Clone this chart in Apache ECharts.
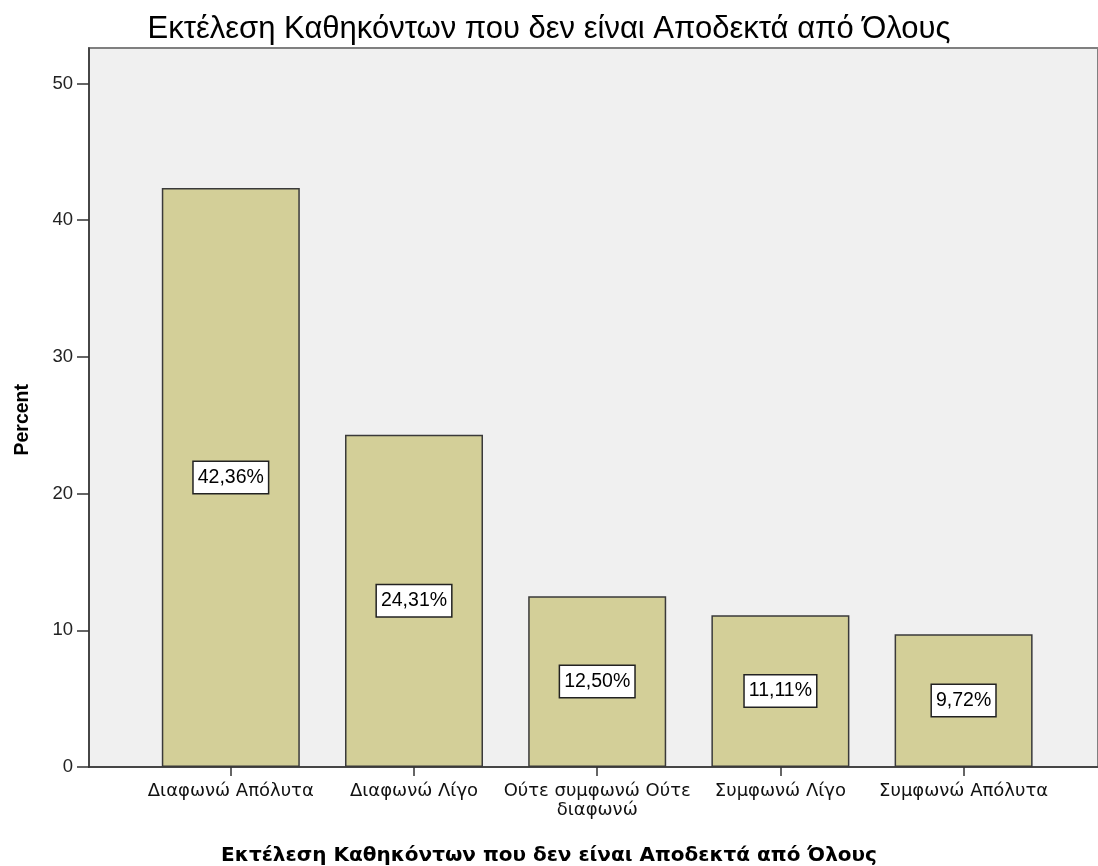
<!DOCTYPE html>
<html>
<head>
<meta charset="utf-8">
<script src="https://cdn.jsdelivr.net/npm/echarts@6/dist/echarts.min.js"></script>
<style>html,body{margin:0;padding:0;background:#fff}#c{width:1098px;height:866px}</style>
</head>
<body>
<div id="c"></div>
<script>
const titleText = 'Εκτέλεση Καθηκόντων που δεν είναι Αποδεκτά από Όλους';
const categories = ['Διαφωνώ Απόλυτα', 'Διαφωνώ Λίγο', 'Ούτε συμφωνώ Ούτε\nδιαφωνώ', 'Συμφωνώ Λίγο', 'Συμφωνώ Απόλυτα'];
const percents = [42.36, 24.31, 12.50, 11.11, 9.72];
const yTicks = [0, 10, 20, 30, 40, 50];
const yName = 'Percent';

const chart = echarts.init(document.getElementById('c'), null, {renderer: 'canvas'});
const YMAX = 52.6;
const option = {
  animation: false,
  backgroundColor: '#ffffff',
  title: {
    text: titleText,
    left: 'center',
    top: 9,
    textStyle: {fontFamily: 'Liberation Sans', fontWeight: 'normal', fontSize: 31, color: '#000'}
  },
  graphic: [
    {type: 'text', left: 13, top: 384, rotation: Math.PI / 2,
     style: {text: yName, fontFamily: 'Liberation Sans', fontWeight: 'bold', fontSize: 19.5, fill: '#000'}},
    {type: 'text', left: 'center', top: 846,
     style: {text: titleText, fontFamily: 'DejaVu Sans', fontWeight: 'bold', fontSize: 20, fill: '#000'}}
  ],
  grid: [
    {left: 89, top: 48, width: 1016, bottom: 99, show: true, backgroundColor: '#f0f0f0', borderColor: '#808080', borderWidth: 2},
    {left: 139.2, top: 48, width: 916, bottom: 99}
  ],
  xAxis: [
    {type: 'category', gridIndex: 0, data: [''],
     axisLine: {show: true, lineStyle: {color: '#333', width: 1.5}},
     axisTick: {show: false}, axisLabel: {show: false}, splitLine: {show: false}},
    {type: 'category', gridIndex: 1, data: categories,
     axisLine: {show: false},
     axisTick: {show: true, alignWithLabel: true, length: 9, lineStyle: {color: '#333', width: 1.5}},
     axisLabel: {margin: 15, fontFamily: 'DejaVu Sans', fontSize: 18, color: '#111', lineHeight: 19, interval: 0}}
  ],
  yAxis: [
    {type: 'value', gridIndex: 0, min: 0, max: YMAX,
     axisLine: {show: true, lineStyle: {color: '#333', width: 1.5}},
     axisTick: {show: true, length: 12, customValues: yTicks, lineStyle: {color: '#333', width: 1.5}},
     axisLabel: {customValues: yTicks, margin: 16, fontFamily: 'Liberation Sans', fontSize: 18.5, color: '#222'},
     splitLine: {show: false}},
    {type: 'value', gridIndex: 1, min: 0, max: YMAX, show: false, splitLine: {show: false}}
  ],
  series: [{
    type: 'bar', xAxisIndex: 1, yAxisIndex: 1,
    data: percents, barWidth: 138,
    itemStyle: {color: '#d3cf98', borderColor: '#3a3a3a', borderWidth: 1.5},
    label: {
      show: true, position: 'inside',
      formatter: p => p.value.toFixed(2).replace('.', ',') + '%',
      fontFamily: 'Liberation Sans', fontSize: 19.5, color: '#000',
      backgroundColor: '#fff', borderColor: '#222', borderWidth: 1.5,
      padding: [6, 4, 5, 4]
    }
  }]
};
chart.setOption(option);
</script>
</body>
</html>
